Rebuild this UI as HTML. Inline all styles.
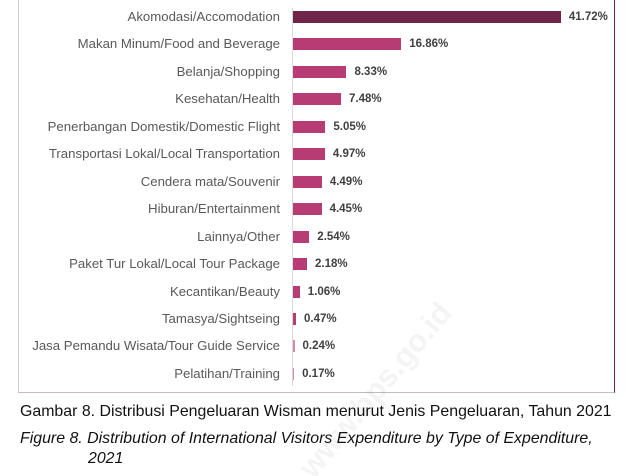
<!DOCTYPE html>
<html><head><meta charset="utf-8"><style>
html,body{margin:0;width:636px;height:476px;overflow:hidden}
body{background:#fff;position:relative;font-family:"Liberation Sans",Arial,sans-serif}
.frame{position:absolute;left:18px;top:-2px;width:597px;height:395px;border:1px solid #d0d0d0;border-right:1.5px solid #6e2549;border-bottom:1.5px solid #c8b8c0;box-sizing:border-box}
.axis{position:absolute;left:292px;top:8px;width:1px;height:378px;background:#d9d9d9}
.lab{position:absolute;right:356px;font-size:13.2px;color:#595959;white-space:nowrap;line-height:14px}
.bar{position:absolute;left:293px;height:12px;background:#b83c74}
.val{position:absolute;font-size:11.5px;font-weight:bold;color:#404040;line-height:13px}
.cap{position:absolute;left:20px;font-size:15.9px;color:#111;white-space:nowrap}
.wm{position:absolute;left:292px;top:462px;font-size:31px;font-weight:bold;color:rgba(0,0,0,0.045);transform:rotate(-50deg);transform-origin:left top;white-space:nowrap}
</style></head><body>
<div class="frame"></div>
<div class="axis"></div>
<div id="c"></div>
<div class="cap" style="top:403px">Gambar 8. Distribusi Pengeluaran Wisman menurut Jenis Pengeluaran, Tahun 2021</div>
<div class="cap" style="top:430px;font-style:italic">Figure 8. Distribution of International Visitors Expenditure by Type of Expenditure,</div>
<div class="cap" style="top:450px;left:88px;font-style:italic">2021</div>
<div class="wm">www.bps.go.id</div>
<script>
var d=[["Akomodasi/Accomodation",41.72],["Makan Minum/Food and Beverage",16.86],["Belanja/Shopping",8.33],["Kesehatan/Health",7.48],["Penerbangan Domestik/Domestic Flight",5.05],["Transportasi Lokal/Local Transportation",4.97],["Cendera mata/Souvenir",4.49],["Hiburan/Entertainment",4.45],["Lainnya/Other",2.54],["Paket Tur Lokal/Local Tour Package",2.18],["Kecantikan/Beauty",1.06],["Tamasya/Sightseing",0.47],["Jasa Pemandu Wisata/Tour Guide Service",0.24],["Pelatihan/Training",0.17]];
var h="";
d.forEach(function(r,i){var y=17+i*27.45;var w=Math.max(1,r[1]*6.42);
h+='<div class="lab" style="top:'+(y-7)+'px">'+r[0]+'</div>';
h+='<div class="bar" style="top:'+(y-6)+'px;width:'+w+'px;'+(i==0?'background:#6e2549':'')+(r[1]<0.3?';opacity:0.6':'')+'"></div>';
h+='<div class="val" style="top:'+(y-6)+'px;left:'+(293+w+8)+'px">'+r[1].toFixed(2)+'%</div>';});
document.getElementById("c").innerHTML=h;
</script>
</body></html>
